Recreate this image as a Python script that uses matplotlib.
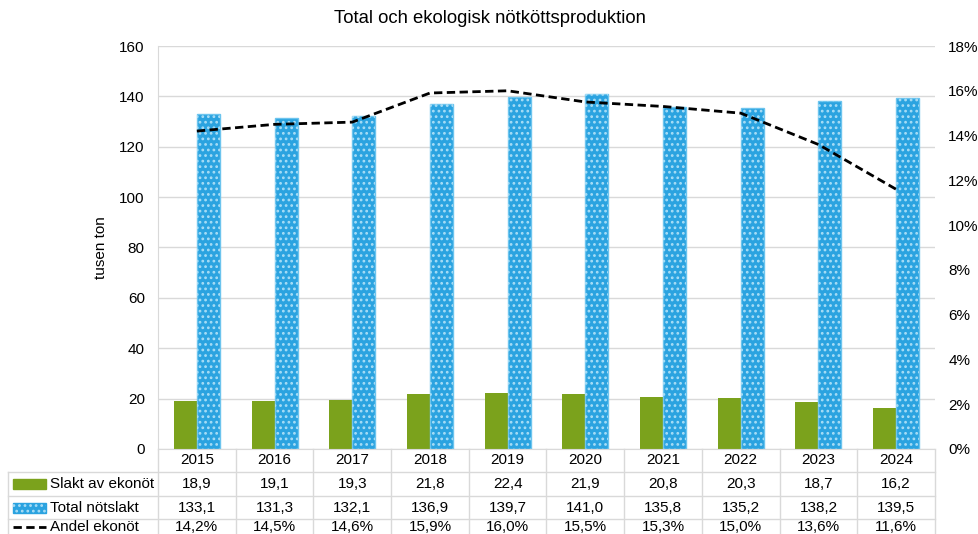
import matplotlib.pyplot as plt
from matplotlib.patches import Rectangle
from matplotlib.lines import Line2D
import numpy as np

plt.rcParams['font.family'] = ['Liberation Sans', 'DejaVu Sans']
plt.rcParams['hatch.linewidth'] = 1.2

years = ["2015", "2016", "2017", "2018", "2019", "2020", "2021", "2022", "2023", "2024"]
slakt_eko = [18.9, 19.1, 19.3, 21.8, 22.4, 21.9, 20.8, 20.3, 18.7, 16.2]
total_not = [133.1, 131.3, 132.1, 136.9, 139.7, 141.0, 135.8, 135.2, 138.2, 139.5]
andel_eko = [14.2, 14.5, 14.6, 15.9, 16.0, 15.5, 15.3, 15.0, 13.6, 11.6]

green = "#7BA21C"
blue = "#2BA3E0"
dots = "#A8DDF6"
grid = "#D9D9D9"
fs = 11
W, H = 979, 534

fig = plt.figure(figsize=(W / 100, H / 100), dpi=100)
x0, x1, ytop, ybot = 158, 935, 46, 449
ax = fig.add_axes([x0 / W, 1 - ybot / H, (x1 - x0) / W, (ybot - ytop) / H])

x = np.arange(len(years))
bw = 0.296
ax.bar(x - bw / 2, slakt_eko, bw, color=green, zorder=2)
ax.bar(x + bw / 2, total_not, bw, color=blue, edgecolor="#6CC4EE", linewidth=1, zorder=2)
ax.bar(x + bw / 2, total_not, bw, facecolor="none", edgecolor=dots,
       hatch="...", linewidth=0, zorder=3)

ax.set_xlim(-0.5, len(years) - 0.5)
ax.set_ylim(0, 160)
ax.set_yticks(range(0, 161, 20))
ax.yaxis.grid(True, color=grid, linewidth=1)
ax.set_axisbelow(True)
ax.set_xticks([])
ax.tick_params(axis="y", length=0, labelsize=fs, pad=9.5)
for s in ["top", "right"]:
    ax.spines[s].set_visible(False)
for s in ["left", "bottom"]:
    ax.spines[s].set_color(grid)
ax.set_ylabel("tusen ton", fontsize=fs, labelpad=8)

ax2 = ax.twinx()
ax2.plot(x, andel_eko, color="black", linestyle=(0, (3, 1.6)), linewidth=2, zorder=4)
ax2.set_ylim(0, 18)
ax2.set_yticks(range(0, 19, 2))
ax2.set_yticklabels([f"{v}%" for v in range(0, 19, 2)])
ax2.tick_params(axis="y", length=0, labelsize=fs, pad=9.5)
for s in ["top", "left", "right", "bottom"]:
    ax2.spines[s].set_visible(False)

fig.suptitle("Total och ekologisk nötköttsproduktion", y=1 - 10 / H, fontsize=13.3)

# data table below the chart, in pixel coordinates
def px(xp, yp):
    return xp / W, 1 - yp / H

def hline(xa, xb, yp):
    fig.add_artist(Line2D([xa / W, xb / W], [1 - yp / H, 1 - yp / H], color=grid, lw=1))

def vline(xp, ya, yb):
    fig.add_artist(Line2D([xp / W, xp / W], [1 - ya / H, 1 - yb / H], color=grid, lw=1))

cw = (x1 - x0) / len(years)
rows_y = [449, 472, 496, 519, 543]
for r in rows_y[1:4]:
    hline(8, x1, r)
for i in range(len(years) + 1):
    vline(x0 + i * cw, 449, 534)
vline(8, 472, 534)

rows = [years,
        [f"{v:.1f}".replace(".", ",") for v in slakt_eko],
        [f"{v:.1f}".replace(".", ",") for v in total_not],
        [f"{v:.1f}%".replace(".", ",") for v in andel_eko]]
for ri, vals in enumerate(rows):
    yc = (rows_y[ri] + rows_y[ri + 1]) / 2 if ri < 3 else 527
    for i, v in enumerate(vals):
        xx, yy = px(x0 + (i + 0.5) * cw, yc)
        fig.text(xx, yy, v, ha="center", va="center", fontsize=fs)

labels = ["Slakt av ekonöt", "Total nötslakt", "Andel ekonöt"]
ycs = [484, 508, 527]
# legend keys
fig.add_artist(Rectangle(px(13, 489), 33 / W, 10 / H, color=green))
fig.add_artist(Rectangle(px(13, 513), 33 / W, 10 / H, color=blue))
fig.add_artist(Rectangle(px(13, 513), 33 / W, 10 / H, facecolor="none",
                         edgecolor=dots, hatch="...", linewidth=0))
fig.add_artist(Line2D([13 / W, 46 / W], [1 - 527 / H] * 2, color="black",
                      linestyle=(0, (3, 1.6)), lw=2))
for lab, yc in zip(labels, ycs):
    xx, yy = px(50, yc)
    fig.text(xx, yy, lab, ha="left", va="center", fontsize=fs)

fig.savefig("out.png", dpi=100)
